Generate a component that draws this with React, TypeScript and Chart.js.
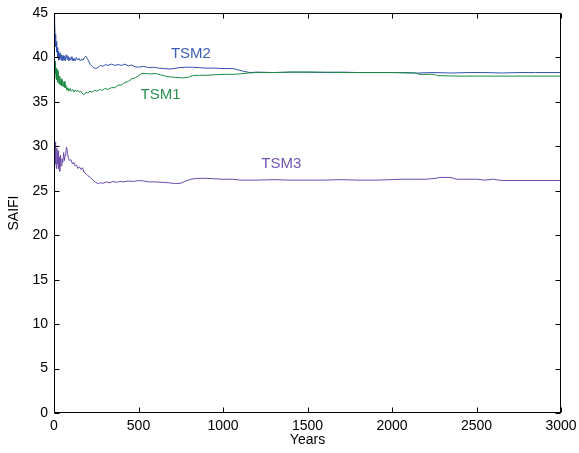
import React, { useEffect, useRef } from "react";
import { Chart, registerables } from "chart.js";

Chart.register(...registerables);

const xTicks = [0, 500, 1000, 1500, 2000, 2500, 3000];
const yTicks = [0, 5, 10, 15, 20, 25, 30, 35, 40, 45];

const tsm2Years = [0, 2, 3, 5, 7, 9, 11, 13, 16, 19, 22, 25, 28, 31, 34, 38, 42, 46, 50, 54, 58, 62, 67, 72, 77, 82, 88, 94, 100, 106, 112, 118, 125, 132, 140, 148, 156, 164, 172, 180, 188, 196, 205, 215, 225, 235, 248, 262, 275, 290, 305, 320, 340, 360, 380, 400, 420, 440, 460, 480, 500, 530, 560, 590, 620, 650, 680, 710, 740, 780, 820, 860, 900, 950, 1000, 1060, 1090, 1120, 1160, 1200, 1300, 1400, 1500, 1600, 1700, 1800, 1900, 2000, 2100, 2150, 2250, 2350, 2450, 2550, 2650, 2750, 2850, 3000];
const tsm2Values = [45.0, 44.5, 42.8, 44.0, 42.0, 42.6, 41.2, 41.8, 40.6, 41.1, 40.0, 40.7, 39.7, 40.4, 39.8, 40.5, 39.7, 40.3, 39.6, 40.2, 39.7, 40.1, 39.6, 40.3, 39.8, 40.2, 39.6, 40.0, 39.7, 40.1, 39.6, 39.9, 39.6, 40.0, 39.7, 39.9, 39.6, 39.8, 39.7, 40.0, 40.15, 39.9, 39.6, 39.2, 39.0, 38.85, 38.75, 38.9, 39.1, 39.0, 39.2, 39.1, 39.25, 39.1, 39.2, 39.1, 39.25, 39.05, 39.15, 38.95, 38.9, 39.0, 38.85, 38.9, 38.8, 38.75, 38.7, 38.75, 38.85, 38.9, 38.9, 38.85, 38.8, 38.8, 38.75, 38.75, 38.6, 38.45, 38.3, 38.35, 38.3, 38.35, 38.35, 38.3, 38.35, 38.3, 38.3, 38.3, 38.25, 38.25, 38.3, 38.25, 38.3, 38.3, 38.25, 38.3, 38.3, 38.3];

const tsm1Years = [0, 1, 2, 3, 4, 6, 8, 10, 12, 14, 17, 20, 23, 26, 30, 34, 38, 42, 46, 50, 55, 60, 65, 70, 76, 82, 88, 95, 102, 110, 118, 126, 134, 142, 150, 158, 166, 174, 182, 190, 200, 212, 225, 240, 255, 270, 285, 300, 320, 340, 360, 380, 400, 420, 440, 460, 480, 500, 520, 540, 570, 600, 630, 660, 690, 720, 760, 790, 820, 860, 900, 950, 1000, 1060, 1100, 1150, 1200, 1300, 1400, 1500, 1600, 1700, 1800, 1900, 2000, 2100, 2140, 2160, 2250, 2270, 2400, 2500, 2600, 2700, 2800, 3000];
const tsm1Values = [33.4, 35.5, 38.5, 40.0, 38.0, 39.6, 38.2, 39.2, 37.6, 38.8, 37.5, 38.6, 37.2, 38.3, 37.0, 37.9, 36.9, 37.6, 36.8, 37.4, 36.7, 37.3, 36.6, 36.9, 36.3, 36.6, 36.2, 36.5, 36.2, 36.4, 36.1, 36.35, 36.15, 36.3, 36.1, 36.2, 36.0, 35.8, 35.9, 36.1, 36.0, 36.2, 36.1, 36.3, 36.2, 36.4, 36.3, 36.5, 36.4, 36.6, 36.6, 36.9, 36.9, 37.2, 37.3, 37.6, 37.7, 37.95, 38.2, 38.2, 38.15, 38.2, 38.05, 37.9, 37.8, 37.75, 37.7, 37.75, 37.95, 38.0, 38.0, 38.05, 38.1, 38.1, 38.15, 38.25, 38.3, 38.3, 38.35, 38.35, 38.35, 38.3, 38.3, 38.3, 38.3, 38.3, 38.25, 38.1, 38.1, 37.95, 37.9, 37.9, 37.9, 37.9, 37.9, 37.9];

const tsm3Years = [0, 2, 4, 6, 8, 11, 14, 17, 20, 24, 27, 30, 34, 38, 42, 47, 52, 57, 62, 66, 70, 75, 80, 86, 92, 100, 110, 117, 125, 133, 141, 150, 160, 168, 178, 190, 200, 216, 230, 245, 263, 275, 290, 310, 330, 350, 370, 390, 410, 440, 470, 500, 530, 560, 600, 640, 680, 720, 750, 780, 810, 850, 900, 950, 1000, 1060, 1100, 1200, 1300, 1400, 1500, 1600, 1700, 1800, 1900, 2000, 2050, 2100, 2200, 2260, 2280, 2350, 2380, 2500, 2550, 2600, 2650, 3000];
const tsm3Values = [27.0, 25.2, 29.0, 30.5, 28.0, 29.5, 27.5, 29.8, 28.0, 29.5, 27.5, 28.8, 27.2, 29.0, 27.8, 28.6, 28.2, 29.3, 28.4, 29.0, 29.5, 29.9, 29.2, 28.6, 28.4, 28.5, 28.0, 28.2, 27.8, 27.9, 27.5, 27.7, 27.4, 27.6, 27.1, 26.9, 26.7, 26.5, 26.2, 25.95, 25.8, 25.9, 25.85, 26.0, 25.9, 26.05, 25.95, 26.05, 26.0, 26.1, 26.05, 26.15, 26.1, 26.0, 26.0, 25.95, 25.9, 25.8, 25.85, 26.1, 26.3, 26.4, 26.4, 26.35, 26.3, 26.3, 26.2, 26.2, 26.25, 26.2, 26.2, 26.2, 26.25, 26.2, 26.2, 26.25, 26.3, 26.3, 26.3, 26.4, 26.5, 26.5, 26.3, 26.3, 26.2, 26.3, 26.15, 26.15];

const seriesNames = ["TSM1", "TSM2", "TSM3"];
const seriesColors = ["#1b8a44", "#3352b0", "#6a4aab"];
const labelColors = ["#2a9050", "#3d5db8", "#7355b3"];
const labelYears = [630, 810, 1345];
const labelValues = [35.8, 40.4, 28.05];

const FONT = "'Liberation Sans', Arial, Helvetica, sans-serif";

function pts(xs: number[], ys: number[]) {
  return xs.map((x, i) => ({ x, y: ys[i] }));
}

const framePlugin = {
  id: "frame",
  afterDatasetsDraw(chart: any) {
    const { ctx, chartArea, scales } = chart;
    const { left, right, top, bottom } = chartArea;
    const xs = scales.x;
    const ys = scales.y;
    ctx.save();
    ctx.font = `15px ${FONT}`;
    ctx.textAlign = "center";
    ctx.textBaseline = "middle";
    seriesNames.forEach((n, i) => {
      ctx.fillStyle = labelColors[i];
      ctx.fillText(n, xs.getPixelForValue(labelYears[i]), ys.getPixelForValue(labelValues[i]));
    });
    ctx.strokeStyle = "#000";
    ctx.lineWidth = 1;
    const L = Math.round(left) + 0.5;
    const R = Math.round(right) - 0.5;
    const T = Math.round(top) + 0.5;
    const B = Math.round(bottom) - 0.5;
    ctx.strokeRect(L, T, R - L, B - T);
    const tl = 5;
    ctx.beginPath();
    xTicks.forEach((v) => {
      const px = Math.round(xs.getPixelForValue(v)) + 0.5;
      ctx.moveTo(px, B);
      ctx.lineTo(px, B - tl);
      ctx.moveTo(px, T);
      ctx.lineTo(px, T + tl);
    });
    yTicks.forEach((v) => {
      const py = Math.round(ys.getPixelForValue(v)) + 0.5;
      ctx.moveTo(L, py);
      ctx.lineTo(L + tl, py);
      ctx.moveTo(R, py);
      ctx.lineTo(R - tl, py);
    });
    ctx.stroke();
    ctx.restore();
  },
};

export default function App() {
  const ref = useRef<HTMLCanvasElement>(null);
  useEffect(() => {
    const canvas = ref.current;
    if (!canvas) return;
    const chart = new Chart(canvas, {
      type: "line",
      data: {
        datasets: [
          { label: "TSM1", data: pts(tsm1Years, tsm1Values), borderColor: seriesColors[0] },
          { label: "TSM2", data: pts(tsm2Years, tsm2Values), borderColor: seriesColors[1] },
          { label: "TSM3", data: pts(tsm3Years, tsm3Values), borderColor: seriesColors[2] },
        ].map((d) => ({ ...d, borderWidth: 1, pointRadius: 0, tension: 0, fill: false })),
      },
      options: {
        animation: false,
        responsive: false,
        events: [],
        layout: { padding: { left: 0, right: 18, top: 13, bottom: 0 } },
        plugins: { legend: { display: false }, tooltip: { enabled: false } },
        scales: {
          x: {
            type: "linear",
            min: 0,
            max: 3000,
            afterBuildTicks: (s: any) => {
              s.ticks = xTicks.map((v) => ({ value: v }));
            },
            afterFit: (s: any) => {
              s.height = 40;
              s.paddingLeft = 0;
              s.paddingRight = 0;
            },
            grid: { display: false, drawTicks: false, tickLength: 0 },
            border: { display: false },
            ticks: { color: "#000", font: { family: FONT, size: 14 }, padding: 5, maxRotation: 0, callback: (v: any) => String(v) },
            title: { display: true, text: "Years", color: "#000", font: { family: FONT, size: 14 }, padding: { top: 0, bottom: 4 } },
          },
          y: {
            type: "linear",
            min: 0,
            max: 45,
            afterBuildTicks: (s: any) => {
              s.ticks = yTicks.map((v) => ({ value: v }));
            },
            afterFit: (s: any) => {
              s.width = 54;
              s.paddingTop = 0;
              s.paddingBottom = 0;
            },
            grid: { display: false, drawTicks: false, tickLength: 0 },
            border: { display: false },
            ticks: { color: "#000", font: { family: FONT, size: 14 }, padding: 6, callback: (v: any) => String(v) },
            title: { display: true, text: "SAIFI", color: "#000", font: { family: FONT, size: 14 }, padding: { top: 6, bottom: 0 } },
          },
        },
      },
      plugins: [framePlugin],
    } as any);
    return () => chart.destroy();
  }, []);
  return (
    <div style={{ position: "absolute", left: 0, top: 0, width: 579, height: 453, background: "#fff" }}>
      <canvas ref={ref} width={579} height={453} style={{ display: "block" }} />
    </div>
  );
}
